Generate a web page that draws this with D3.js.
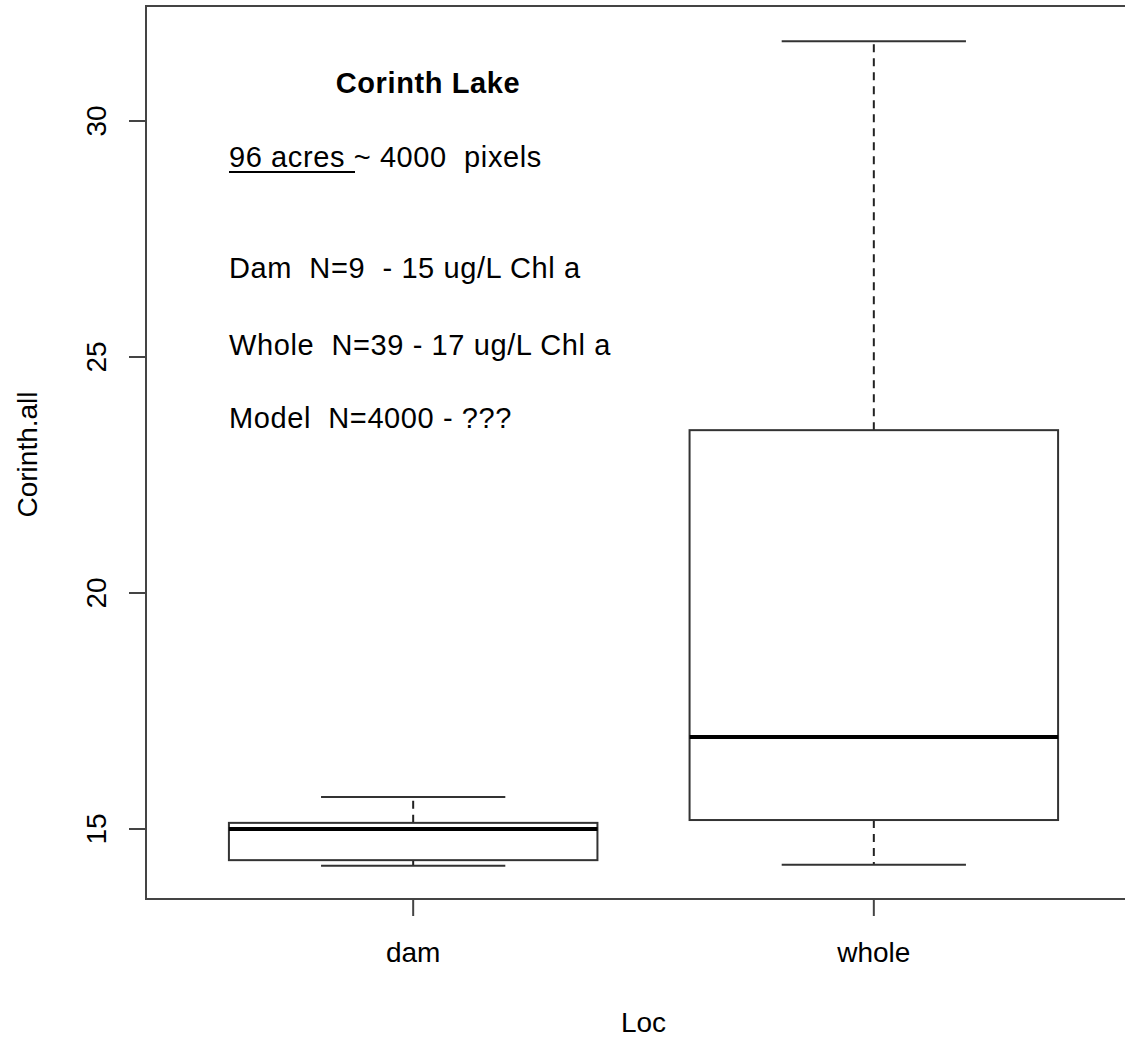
<!DOCTYPE html>
<html>
<head>
<meta charset="utf-8">
<script src="https://cdn.jsdelivr.net/npm/d3@7"></script>
<style>
  body { margin: 0; background: #fff; }
  text { font-family: "Liberation Sans", Arial, sans-serif; fill: #000; }
  text.note { white-space: pre; letter-spacing: 0.6px; }
</style>
</head>
<body>
<div id="chart"></div>
<script>
// boxplot of Corinth.all by Loc

var categories = ["dam", "whole"];
var lowerWhisker = [14.22, 14.24];
var lowerQuartile = [14.34, 15.19];
var medians = [15.0, 16.95];
var upperQuartile = [15.13, 23.45];
var upperWhisker = [15.68, 31.69];
var yTicks = [15, 20, 25, 30];

var notes = ["96 acres ~ 4000  pixels", "Dam  N=9  - 15 ug/L Chl a", "Whole  N=39 - 17 ug/L Chl a", "Model  N=4000 - ???"];

var width = 1125;
var height = 1037;

// plot region in pixels
var plotLeft = 146, plotRight = 1141, plotTop = 6, plotBottom = 899;

var svg = d3.select("#chart").append("svg")
  .attr("width", width)
  .attr("height", height);

// x positions 1..n, with the usual 4% padding round 0.5..n+0.5
var x = d3.scaleLinear().domain([0.42, 2.58]).range([plotLeft, plotRight]);
var y = d3.scaleLinear().domain([15, 30]).range([829, 121]);

var boxHalf = 0.4;
var capHalf = 0.2;

var boxes = categories.map(function(c, i){
  return {name: c, pos: i + 1, lo: lowerWhisker[i], q1: lowerQuartile[i], med: medians[i], q3: upperQuartile[i], hi: upperWhisker[i]};
});

var g = svg.selectAll("g.box").data(boxes).enter().append("g").attr("class", "box");

// dashed whiskers
g.append("line")
  .attr("x1", function(d){ return x(d.pos); }).attr("x2", function(d){ return x(d.pos); })
  .attr("y1", function(d){ return y(d.q3); }).attr("y2", function(d){ return y(d.hi); })
  .attr("stroke", "#222").attr("stroke-width", 2).attr("stroke-dasharray", "8,6");
g.append("line")
  .attr("x1", function(d){ return x(d.pos); }).attr("x2", function(d){ return x(d.pos); })
  .attr("y1", function(d){ return y(d.q1); }).attr("y2", function(d){ return y(d.lo); })
  .attr("stroke", "#222").attr("stroke-width", 2).attr("stroke-dasharray", "8,6");

// whisker caps
["lo", "hi"].forEach(function(k){
  g.append("line")
    .attr("x1", function(d){ return x(d.pos - capHalf); }).attr("x2", function(d){ return x(d.pos + capHalf); })
    .attr("y1", function(d){ return y(d[k]); }).attr("y2", function(d){ return y(d[k]); })
    .attr("stroke", "#333").attr("stroke-width", 2);
});

// box
g.append("rect")
  .attr("x", function(d){ return x(d.pos - boxHalf); })
  .attr("width", function(d){ return x(d.pos + boxHalf) - x(d.pos - boxHalf); })
  .attr("y", function(d){ return y(d.q3); })
  .attr("height", function(d){ return y(d.q1) - y(d.q3); })
  .attr("fill", "none").attr("stroke", "#333").attr("stroke-width", 2);

// median
g.append("line")
  .attr("x1", function(d){ return x(d.pos - boxHalf); }).attr("x2", function(d){ return x(d.pos + boxHalf); })
  .attr("y1", function(d){ return y(d.med); }).attr("y2", function(d){ return y(d.med); })
  .attr("stroke", "#000").attr("stroke-width", 4);

// frame
svg.append("rect")
  .attr("x", plotLeft).attr("y", plotTop)
  .attr("width", plotRight - plotLeft).attr("height", plotBottom - plotTop)
  .attr("fill", "none").attr("stroke", "#444").attr("stroke-width", 2);

// y axis ticks and labels
svg.selectAll("line.ytick").data(yTicks).enter().append("line")
  .attr("x1", plotLeft - 17).attr("x2", plotLeft)
  .attr("y1", function(d){ return y(d); }).attr("y2", function(d){ return y(d); })
  .attr("stroke", "#444").attr("stroke-width", 2);
svg.selectAll("text.ylab").data(yTicks).enter().append("text")
  .attr("transform", function(d){ return "translate(106," + y(d) + ") rotate(-90)"; })
  .attr("text-anchor", "middle")
  .style("font-size", "28px")
  .text(function(d){ return d; });

// x axis ticks and labels
svg.selectAll("line.xtick").data(boxes).enter().append("line")
  .attr("x1", function(d){ return x(d.pos); }).attr("x2", function(d){ return x(d.pos); })
  .attr("y1", plotBottom).attr("y2", plotBottom + 17)
  .attr("stroke", "#444").attr("stroke-width", 2);
svg.selectAll("text.xlab").data(boxes).enter().append("text")
  .attr("x", function(d){ return x(d.pos); }).attr("y", 962)
  .attr("text-anchor", "middle")
  .style("font-size", "28px")
  .text(function(d){ return d.name; });

// axis titles
svg.append("text")
  .attr("x", (plotLeft + plotRight) / 2).attr("y", 1032)
  .attr("text-anchor", "middle").style("font-size", "28px")
  .text("Loc");
svg.append("text")
  .attr("transform", "translate(37," + ((plotTop + plotBottom) / 2 + 2) + ") rotate(-90)")
  .attr("text-anchor", "middle").style("font-size", "28px")
  .text("Corinth.all");

// annotations
svg.append("text")
  .attr("x", 428).attr("y", 93)
  .attr("text-anchor", "middle")
  .style("font-size", "29px").style("font-weight", "bold").style("letter-spacing", "0.6px")
  .text("Corinth Lake");

var noteY = [167, 278, 355, 428];
svg.selectAll("text.note").data(notes).enter().append("text")
  .attr("class", "note")
  .attr("x", 229).attr("y", function(d, i){ return noteY[i]; })
  .style("font-size", "29px")
  .text(function(d){ return d; });

// underline under "96 acres "
svg.append("line")
  .attr("x1", 229).attr("x2", 355).attr("y1", 172).attr("y2", 172)
  .attr("stroke", "#000").attr("stroke-width", 2);
</script>
</body>
</html>
